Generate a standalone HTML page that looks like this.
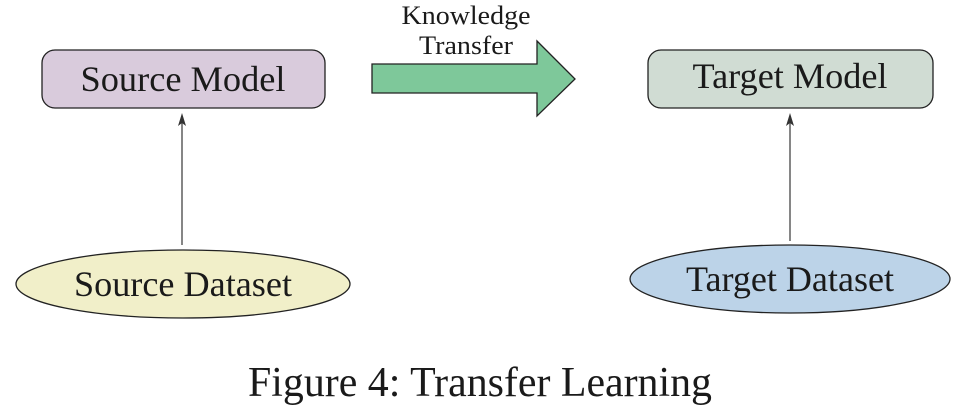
<!DOCTYPE html>
<html><head><meta charset="utf-8"><style>
html,body{margin:0;padding:0;background:#fff;}
svg{display:block;}
text{font-family:"Liberation Serif",serif;fill:#1a1a1a;}
</style></head><body>
<svg width="961" height="408" viewBox="0 0 961 408" xmlns="http://www.w3.org/2000/svg">
<rect x="42" y="50" width="283" height="58" rx="13" fill="#d9cbdc" stroke="#222" stroke-width="1.3"/>
<text x="183" y="91" font-size="36" text-anchor="middle" textLength="205" lengthAdjust="spacingAndGlyphs">Source Model</text>
<rect x="648" y="50" width="285" height="58" rx="13" fill="#d0dcd3" stroke="#222" stroke-width="1.3"/>
<text x="790" y="88" font-size="36" text-anchor="middle" textLength="195" lengthAdjust="spacingAndGlyphs">Target Model</text>
<polygon points="372,64 537,64 537,41 575,79 537,116 537,93 372,93" fill="#7ec89a" stroke="#222" stroke-width="1.3"/>
<text x="466" y="24" font-size="26" text-anchor="middle" textLength="129" lengthAdjust="spacingAndGlyphs">Knowledge</text>
<text x="466" y="54" font-size="26" text-anchor="middle" textLength="94" lengthAdjust="spacingAndGlyphs">Transfer</text>
<line x1="182" y1="245" x2="182" y2="122" stroke="#444" stroke-width="1.3"/>
<polygon points="182,113 178,126 182,123 186,126" fill="#333"/>
<line x1="790" y1="241" x2="790" y2="122" stroke="#444" stroke-width="1.3"/>
<polygon points="790,113 786,126 790,123 794,126" fill="#333"/>
<ellipse cx="183" cy="284" rx="167" ry="34" fill="#f1efc9" stroke="#222" stroke-width="1.3"/>
<text x="183" y="296" font-size="36" text-anchor="middle" textLength="218" lengthAdjust="spacingAndGlyphs">Source Dataset</text>
<ellipse cx="790" cy="279" rx="160" ry="34" fill="#bcd3e8" stroke="#222" stroke-width="1.3"/>
<text x="790" y="291" font-size="36" text-anchor="middle" textLength="208" lengthAdjust="spacingAndGlyphs">Target Dataset</text>
<text x="480" y="396" font-size="42" text-anchor="middle" textLength="464" lengthAdjust="spacingAndGlyphs">Figure 4: Transfer Learning</text>
</svg>
</body></html>
